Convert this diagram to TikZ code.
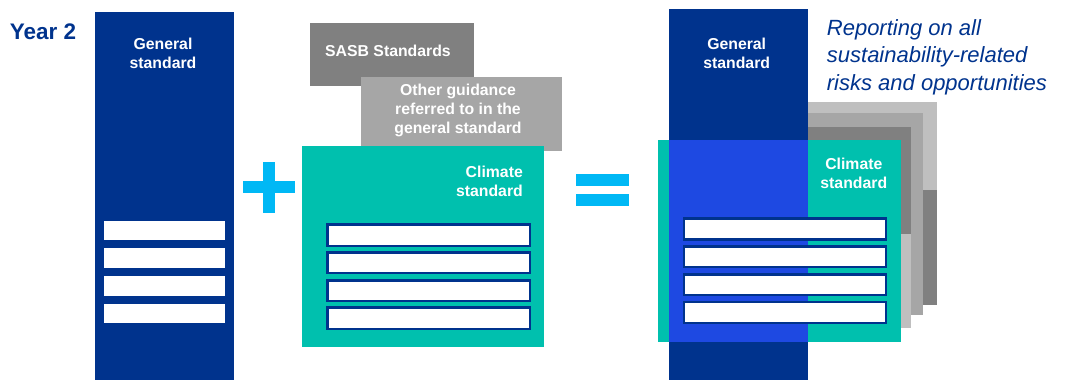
\documentclass[tikz,border=0pt]{standalone}
\usepackage{fontspec}
\setmainfont{Liberation Sans}
\definecolor{kblue}{HTML}{00338D}
\definecolor{kteal}{HTML}{00C0AE}
\definecolor{kcobalt}{HTML}{1E49E2}
\definecolor{kcyan}{HTML}{00B8F5}
\definecolor{gdark}{HTML}{808080}
\definecolor{gmid}{HTML}{A6A6A6}
\definecolor{glight}{HTML}{BFBFBF}
\tikzset{
  lbl/.style={text=white,font=\fontsize{15.8}{18.8}\selectfont\bfseries,inner sep=0pt,align=center},
  barb/.style={fill=white,draw=kblue,line width=2.5pt},
}
\begin{document}
\begin{tikzpicture}[x=1pt,y=-1pt]
\useasboundingbox (0,0) rectangle (1067,380);
% Year 2
\node[anchor=base west,inner sep=0pt,text=kblue,font=\fontsize{22.5}{24}\selectfont\bfseries] (year) at (9.6,39) {Year 2};
% left general column
\fill[kblue] (94.5,11.5) rectangle (234.2,380);
\node[lbl,anchor=base] (gen1) at (163,68.5) {General\\standard};
\foreach \y/\h in {221/240,248/268,276/296,304/323}
  \fill[white] (103.7,\y) rectangle (225.4,\h);
% plus
\fill[kcyan] (262.5,162) rectangle (274.8,213);
\fill[kcyan] (242.6,181) rectangle (295.4,193);
% SASB and other guidance
\fill[gdark] (309.6,23) rectangle (473.8,86);
\node[lbl,anchor=base west] (sasb) at (325,56) {SASB Standards};
\fill[gmid] (361,77) rectangle (561.8,151);
\node[lbl,anchor=base] (other) at (458,133.5) {Other guidance\\referred to in the\\general standard};
% climate card
\fill[kteal] (302,146) rectangle (544,347);
\node[lbl,anchor=base east,align=right] (clim1) at (523,196.7) {Climate\\standard};
\foreach \y/\h in {223/247,251/274,279/302,306/330}
  \draw[barb] (327.25,\y+1.25) rectangle (529.75,\h-1.25);
% equals
\fill[kcyan] (576,174) rectangle (629,185.7);
\fill[kcyan] (576,194) rectangle (629,205.7);
% right: stacked cards
\fill[glight] (800,102.3) rectangle (936.7,190);
\fill[gdark] (800,190) rectangle (936.7,305);
\fill[gmid] (800,113.3) rectangle (923.3,315);
\fill[gdark] (800,126.7) rectangle (911.2,234.3);
\fill[glight] (800,234.3) rectangle (911.2,328.3);
\fill[kteal] (658.3,140) rectangle (901,341.7);
\fill[kblue] (668.7,9.3) rectangle (808.3,380);
\fill[kcobalt] (668.7,140) rectangle (808.3,341.7);
\node[lbl,anchor=base] (gen2) at (736.7,68.3) {General\\standard};
\node[lbl,anchor=base] (clim2) at (853.8,188.3) {Climate\\standard};
\foreach \y/\h in {217.3/240.7,245/268.3,273.3/296,300.7/324}
  \draw[barb] (683.95,\y+1.25) rectangle (886.05,\h-1.25);
% italic caption
\node[anchor=base west,inner sep=0pt,align=left,text=kblue,font=\fontsize{22}{27.8}\selectfont\itshape] (cap) at (826.7,90.7) {Reporting on all\\sustainability-related\\risks and opportunities};
\end{tikzpicture}
\end{document}
